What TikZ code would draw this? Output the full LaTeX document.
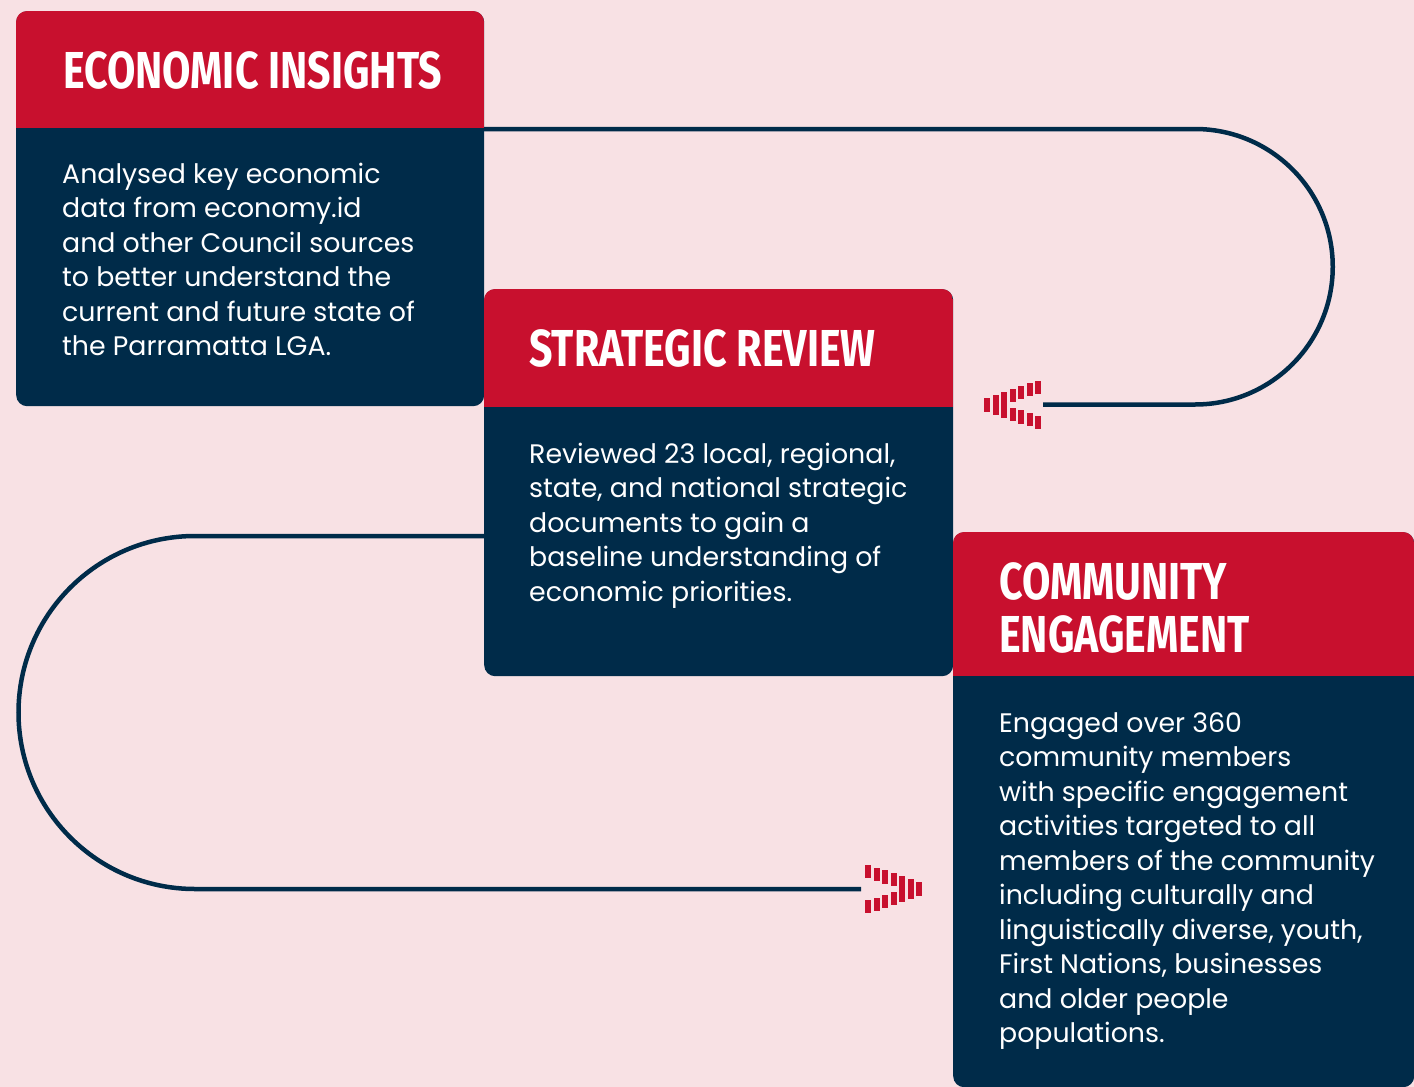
\documentclass[tikz,border=0pt]{standalone}
\usepackage{fontspec}
\newfontfamily\bodyfont{Poppins}
\newfontfamily\titlefont[FakeStretch=0.79]{Fira Sans}
\definecolor{bgpink}{HTML}{F8E1E4}
\definecolor{crimson}{HTML}{C8102E}
\definecolor{navy}{HTML}{002B49}
\tikzset{
  box/.style={draw=none, fill=navy, rounded corners=11pt, rectangle, inner sep=0pt, anchor=north west},
  titletext/.style={anchor=base west, inner sep=0pt, text=white, font=\titlefont\bfseries\fontsize{52}{54}\selectfont},
  bodytext/.style={anchor=base west, inner sep=0pt, text=white, font=\bodyfont\fontsize{26.8}{34.5}\selectfont},
  conn/.style={draw=navy, line width=4.5pt},
  arrowbar/.style={fill=crimson}
}
\begin{document}
\begin{tikzpicture}[x=1pt, y=-1pt]
\fill[bgpink] (0,0) rectangle (1414,1087);
\useasboundingbox (0,0) rectangle (1414,1087);

% connectors (behind boxes)
\coordinate (ecoH) at (484,129);
\coordinate (arrA) at (1043,404.5);
\coordinate (strL) at (484,536);
\coordinate (arrB) at (861,889);
\draw[conn] (ecoH) -- (1195,129) arc[start angle=90, end angle=-90, radius=137.75pt] -- (arrA);
\draw[conn] (strL) -- (195,536) arc[start angle=90, end angle=270, radius=176.5pt] -- (arrB);

% arrow heads made of bars
\begin{scope}[shift={(arrA)}, xscale=-1]
  \foreach \d/\a/\b in {2/24/11, 10.5/21.5/8.5, 19/19/5.5, 27.5/16/3} {
    \fill[arrowbar] (\d,-\a) rectangle (\d+6,-\b);
    \fill[arrowbar] (\d,\b) rectangle (\d+6,\a);
  }
  \foreach \d/\a in {36/13, 44.5/10, 53/7} {
    \fill[arrowbar] (\d,-\a) rectangle (\d+6,\a);
  }
\end{scope}
\begin{scope}[shift={(arrB)}]
  \foreach \d/\a/\b in {4/24/11, 12.5/21.5/8.5, 21/19/5.5, 29.5/16/3} {
    \fill[arrowbar] (\d,-\a) rectangle (\d+6,-\b);
    \fill[arrowbar] (\d,\b) rectangle (\d+6,\a);
  }
  \foreach \d/\a in {38/13, 46.5/10, 55/7} {
    \fill[arrowbar] (\d,-\a) rectangle (\d+6,\a);
  }
\end{scope}

% box 1
\node[box, minimum width=468pt, minimum height=395pt] (eco) at (16,11) {};
\begin{scope}
  \clip[rounded corners=11pt] (16,11) rectangle (484,406);
  \fill[crimson] (16,11) rectangle (484,128);
\end{scope}
\node[titletext] (ecoT) at (63,88) {ECONOMIC INSIGHTS};
\node[bodytext] (ecoB) at (62,183) {\parbox[t]{410pt}{\raggedright
Analysed key economic\\
data from economy.id\\
and other Council sources\\
to better understand the\\
current and future state of\\
the Parramatta LGA.}};

% box 2
\node[box, minimum width=469pt, minimum height=387pt] (str) at (484,289) {};
\begin{scope}
  \clip[rounded corners=11pt] (484,289) rectangle (953,676);
  \fill[crimson] (484,289) rectangle (953,407);
\end{scope}
\node[titletext] (strT) at (529,366) {STRATEGIC REVIEW};
\node[bodytext] (strB) at (529,463) {\parbox[t]{410pt}{\raggedright
Reviewed 23 local, regional,\\
state, and national strategic\\
documents to gain a\\
baseline understanding of\\
economic priorities.}};

% box 3
\node[box, minimum width=461pt, minimum height=555pt] (com) at (953,532) {};
\begin{scope}
  \clip[rounded corners=11pt] (953,532) rectangle (1414,1087);
  \fill[crimson] (953,532) rectangle (1414,676);
\end{scope}
\node[titletext] (comT) at (999,599) {\parbox[t]{400pt}{\raggedright\baselineskip=53.5pt
COMMUNITY\\
ENGAGEMENT}};
\node[bodytext] (comB) at (999,732) {\parbox[t]{410pt}{\raggedright
Engaged over 360\\
community members\\
with specific engagement\\
activities targeted to all\\
members of the community\\
including culturally and\\
linguistically diverse, youth,\\
First Nations, businesses\\
and older people\\
populations.}};
\end{tikzpicture}
\end{document}
